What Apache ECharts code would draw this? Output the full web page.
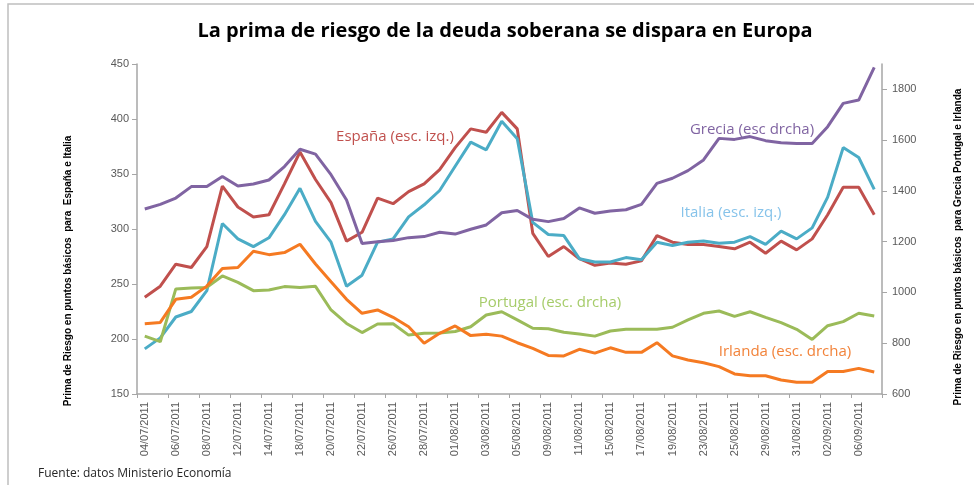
<!DOCTYPE html>
<html>
<head>
<meta charset="utf-8">
<script src="https://cdn.jsdelivr.net/npm/echarts@6/dist/echarts.min.js"></script>
<style>
  html, body { margin: 0; padding: 0; background: #fff; }
  #chart { width: 974px; height: 485px; }
</style>
</head>
<body>
<div id="chart"></div>
<script>
// fechas (días hábiles)
const fechas = [
  '04/07/2011', '05/07/2011', '06/07/2011', '07/07/2011', '08/07/2011',
  '11/07/2011', '12/07/2011', '13/07/2011', '14/07/2011', '15/07/2011',
  '18/07/2011', '19/07/2011', '20/07/2011', '21/07/2011', '22/07/2011',
  '25/07/2011', '26/07/2011', '27/07/2011', '28/07/2011', '29/07/2011',
  '01/08/2011', '02/08/2011', '03/08/2011', '04/08/2011', '05/08/2011',
  '08/08/2011', '09/08/2011', '10/08/2011', '11/08/2011', '12/08/2011',
  '15/08/2011', '16/08/2011', '17/08/2011', '18/08/2011', '19/08/2011',
  '22/08/2011', '23/08/2011', '24/08/2011', '25/08/2011', '26/08/2011',
  '29/08/2011', '30/08/2011', '31/08/2011', '01/09/2011', '02/09/2011',
  '05/09/2011', '06/09/2011', '07/09/2011'
]

// escala izquierda
const espana = [238, 248, 268, 265, 284, 339, 320, 311, 313, 341, 370, 345, 324, 289, 297, 328, 323, 334, 341, 354, 374, 391, 388, 406, 391, 296, 275, 284, 273, 267, 269, 268, 271, 294, 288, 286, 286, 284, 282, 288, 278, 289, 281, 291, 313, 338, 338, 313]
const italia = [191, 201, 220, 225, 244, 305, 291, 284, 292, 313, 337, 307, 288, 248, 258, 288, 291, 311, 322, 335, 357, 379, 372, 398, 382, 306, 295, 294, 273, 270, 270, 274, 272, 288, 285, 288, 289, 287, 288, 293, 286, 298, 291, 301, 329, 374, 365, 336]

// escala derecha
const grecia = [1329, 1347, 1372, 1417, 1417, 1457, 1419, 1427, 1443, 1496, 1564, 1545, 1464, 1364, 1193, 1200, 1205, 1216, 1220, 1237, 1230, 1249, 1266, 1314, 1323, 1288, 1279, 1291, 1333, 1312, 1321, 1326, 1347, 1430, 1450, 1480, 1522, 1607, 1603, 1614, 1598, 1590, 1587, 1587, 1653, 1745, 1758, 1887]
const portugal = [828, 806, 1014, 1018, 1020, 1065, 1040, 1007, 1010, 1023, 1020, 1024, 931, 878, 842, 876, 877, 832, 839, 840, 846, 865, 911, 924, 892, 859, 857, 843, 836, 828, 848, 855, 855, 855, 863, 892, 918, 927, 906, 924, 902, 881, 855, 815, 869, 885, 918, 907]
const irlanda = [877, 882, 973, 981, 1025, 1094, 1098, 1162, 1149, 1157, 1190, 1112, 1042, 973, 918, 931, 902, 865, 800, 839, 868, 830, 835, 828, 802, 780, 752, 750, 776, 761, 782, 764, 764, 802, 750, 734, 723, 708, 679, 672, 672, 655, 646, 646, 689, 689, 701, 687]

const ejeIzq = { min: 150, max: 450, interval: 50 }
const ejeDer = { min: 600, max: 1900, interval: 200 }

const chart = echarts.init(document.getElementById('chart'))

const axisGray = '#a6a6a6'
const labelGray = '#595959'
const narrow = 'Liberation Sans Narrow, Liberation Sans, sans-serif'

function linea (name, data, color, yIndex) {
  return {
    name: name,
    type: 'line',
    yAxisIndex: yIndex,
    data: data,
    symbol: 'none',
    lineStyle: { color: color, width: 3 },
    itemStyle: { color: color },
    z: 2
  }
}

function etiqueta (text, x, y, color) {
  return {
    type: 'text',
    x: x,
    y: y,
    style: {
      text: text,
      fill: color,
      font: '15px "Open Sans", sans-serif',
      textAlign: 'center',
      textVerticalAlign: 'middle'
    }
  }
}

const options = {
  animation: false,
  grid: { left: 137, right: 92, top: 64, bottom: 91, containLabel: false },
  xAxis: {
    type: 'category',
    data: fechas,
    boundaryGap: true,
    axisLine: { lineStyle: { color: axisGray, width: 1.5 } },
    axisTick: { show: true, interval: 1, length: 4, lineStyle: { color: axisGray } },
    axisLabel: {
      interval: 1,
      rotate: 90,
      margin: 8,
      fontSize: 11,
      fontFamily: 'Liberation Sans, sans-serif',
      color: labelGray
    },
    splitLine: { show: false }
  },
  yAxis: [
    {
      type: 'value',
      position: 'left',
      min: ejeIzq.min,
      max: ejeIzq.max,
      interval: ejeIzq.interval,
      axisLine: { show: true, lineStyle: { color: axisGray, width: 1.5 } },
      axisTick: { show: true, length: 5, lineStyle: { color: axisGray } },
      axisLabel: { fontSize: 11, fontFamily: 'Liberation Sans, sans-serif', color: labelGray, margin: 8 },
      splitLine: { show: false }
    },
    {
      type: 'value',
      position: 'right',
      min: ejeDer.min,
      max: ejeDer.max,
      interval: ejeDer.interval,
      axisLine: { show: true, lineStyle: { color: axisGray, width: 1.5 } },
      axisTick: { show: true, length: 5, lineStyle: { color: axisGray } },
      axisLabel: {
        fontSize: 11,
        fontFamily: 'Liberation Sans, sans-serif',
        color: labelGray,
        margin: 10,
        showMaxLabel: false,
        formatter: (v) => String(v)
      },
      splitLine: { show: false }
    }
  ],
  series: [
    linea('España', espana, '#c0504d', 0),
    linea('Italia', italia, '#4bacc6', 0),
    linea('Grecia', grecia, '#8064a2', 1),
    linea('Portugal', portugal, '#9bbb59', 1),
    linea('Irlanda', irlanda, '#f57a22', 1)
  ],
  graphic: [
    // marco
    {
      type: 'rect',
      shape: { x: 8, y: 4, width: 980, height: 500 },
      style: { fill: 'none', stroke: '#bfbfbf', lineWidth: 1.5 },
      silent: true
    },
    {
      type: 'text',
      x: 505,
      y: 31,
      style: {
        text: 'La prima de riesgo de la deuda soberana se dispara en Europa',
        fill: '#000',
        font: 'bold 20px "Open Sans", sans-serif',
        textAlign: 'center',
        textVerticalAlign: 'middle'
      }
    },
    etiqueta('España (esc. izq.)', 395, 137, '#c0504d'),
    etiqueta('Grecia (esc drcha)', 752, 130, '#8064a2'),
    etiqueta('Italia (esc. izq.)', 731, 213, '#86c3ea'),
    etiqueta('Portugal (esc. drcha)', 550, 303, '#a6cc6a'),
    etiqueta('Irlanda (esc. drcha)', 785, 352, '#f2833a'),
    {
      type: 'text',
      x: 68,
      y: 271,
      rotation: Math.PI / 2,
      style: {
        text: 'Prima de Riesgo en puntos básicos  para  España e Italia',
        fill: '#000',
        font: 'bold 10px ' + narrow,
        textAlign: 'center',
        textVerticalAlign: 'middle'
      }
    },
    {
      type: 'text',
      x: 958,
      y: 247,
      rotation: Math.PI / 2,
      style: {
        text: 'Prima de Riesgo en puntos básicos  para Grecia Portugal e Irlanda',
        fill: '#000',
        font: 'bold 10px ' + narrow,
        textAlign: 'center',
        textVerticalAlign: 'middle'
      }
    },
    {
      type: 'text',
      x: 38,
      y: 474,
      style: {
        text: 'Fuente: datos Ministerio Economía',
        fill: '#262626',
        font: '12px "Open Sans", sans-serif',
        textAlign: 'left',
        textVerticalAlign: 'middle'
      }
    }
  ]
}

chart.setOption(options)
</script>
</body>
</html>
